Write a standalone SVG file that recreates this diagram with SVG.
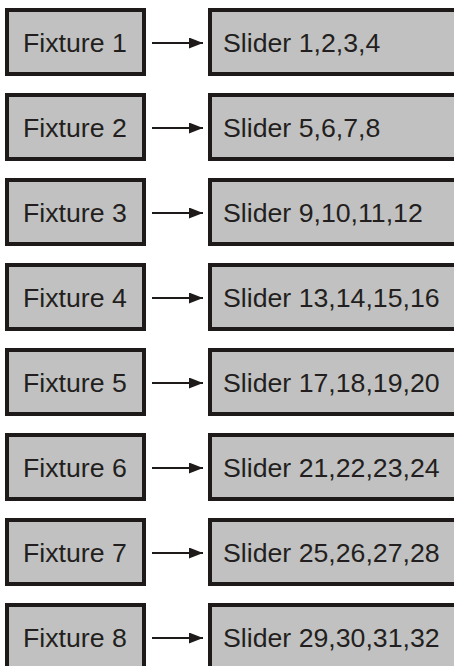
<svg xmlns="http://www.w3.org/2000/svg" width="454" height="666" viewBox="0 0 454 666">
<style>
.box{fill:#c1c1c1;stroke:#1e1a1a;stroke-width:4}
.t{font-family:"Liberation Sans",Arial,sans-serif;font-size:26.7px;fill:#231f20}
.c{stroke:#1e1a1a;stroke-width:2.2;fill:none}
</style>
<defs>
<marker id="ah" markerUnits="userSpaceOnUse" markerWidth="14" markerHeight="11" refX="14" refY="5.5" orient="auto">
<path d="M0,0 L14,5.5 L0,11 Z" fill="#1e1a1a"/>
</marker>
</defs>
<rect width="454" height="666" fill="#ffffff"/>
<g id="connectors">
<line class="c" x1="152" y1="43" x2="203" y2="43" marker-end="url(#ah)"/>
<line class="c" x1="152" y1="128" x2="203" y2="128" marker-end="url(#ah)"/>
<line class="c" x1="152" y1="213" x2="203" y2="213" marker-end="url(#ah)"/>
<line class="c" x1="152" y1="298" x2="203" y2="298" marker-end="url(#ah)"/>
<line class="c" x1="152" y1="383" x2="203" y2="383" marker-end="url(#ah)"/>
<line class="c" x1="152" y1="468" x2="203" y2="468" marker-end="url(#ah)"/>
<line class="c" x1="152" y1="553" x2="203" y2="553" marker-end="url(#ah)"/>
<line class="c" x1="152" y1="638" x2="203" y2="638" marker-end="url(#ah)"/>
</g>
<g id="fixture1"><rect class="box" x="7" y="10" width="137" height="64"/><text class="t" x="23" y="52">Fixture 1</text></g>
<g id="slider1"><rect class="box" x="210" y="10" width="260" height="64"/><text class="t" x="223" y="52">Slider 1,2,3,4</text></g>
<g id="fixture2"><rect class="box" x="7" y="95" width="137" height="64"/><text class="t" x="23" y="137">Fixture 2</text></g>
<g id="slider2"><rect class="box" x="210" y="95" width="260" height="64"/><text class="t" x="223" y="137">Slider 5,6,7,8</text></g>
<g id="fixture3"><rect class="box" x="7" y="180" width="137" height="64"/><text class="t" x="23" y="222">Fixture 3</text></g>
<g id="slider3"><rect class="box" x="210" y="180" width="260" height="64"/><text class="t" x="223" y="222">Slider 9,10,11,12</text></g>
<g id="fixture4"><rect class="box" x="7" y="265" width="137" height="64"/><text class="t" x="23" y="307">Fixture 4</text></g>
<g id="slider4"><rect class="box" x="210" y="265" width="260" height="64"/><text class="t" x="223" y="307">Slider 13,14,15,16</text></g>
<g id="fixture5"><rect class="box" x="7" y="350" width="137" height="64"/><text class="t" x="23" y="392">Fixture 5</text></g>
<g id="slider5"><rect class="box" x="210" y="350" width="260" height="64"/><text class="t" x="223" y="392">Slider 17,18,19,20</text></g>
<g id="fixture6"><rect class="box" x="7" y="435" width="137" height="64"/><text class="t" x="23" y="477">Fixture 6</text></g>
<g id="slider6"><rect class="box" x="210" y="435" width="260" height="64"/><text class="t" x="223" y="477">Slider 21,22,23,24</text></g>
<g id="fixture7"><rect class="box" x="7" y="520" width="137" height="64"/><text class="t" x="23" y="562">Fixture 7</text></g>
<g id="slider7"><rect class="box" x="210" y="520" width="260" height="64"/><text class="t" x="223" y="562">Slider 25,26,27,28</text></g>
<g id="fixture8"><rect class="box" x="7" y="605" width="137" height="64"/><text class="t" x="23" y="647">Fixture 8</text></g>
<g id="slider8"><rect class="box" x="210" y="605" width="260" height="64"/><text class="t" x="223" y="647">Slider 29,30,31,32</text></g>
</svg>
